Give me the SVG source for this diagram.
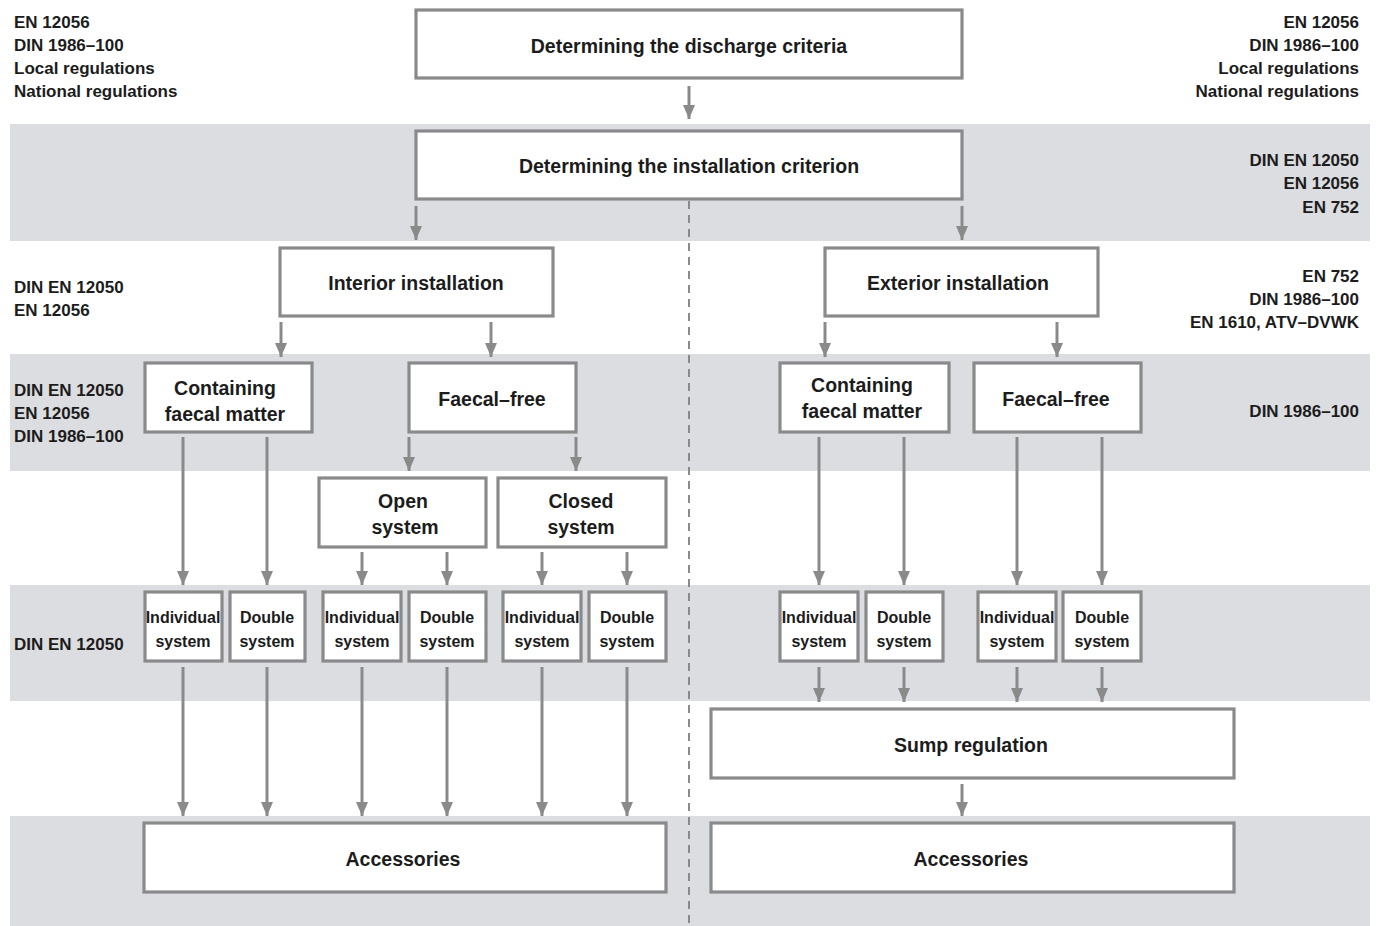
<svg xmlns="http://www.w3.org/2000/svg" width="1379" height="926" viewBox="0 0 1379 926">
<defs>
<marker id="ah" markerUnits="userSpaceOnUse" markerWidth="14" markerHeight="12" viewBox="0 0 14 12" refX="14" refY="6" orient="auto">
<path d="M0,0 L14,6 L0,12 Z" fill="#8a8a8a"/>
</marker>
<style>
.band{fill:#dcdde0}
.box{fill:#fff;stroke:#8a8a8a;stroke-width:3.2}
.t{font-family:"Liberation Sans",Arial,sans-serif;font-weight:bold;fill:#1c1c1c}
.m{font-size:19.5px;text-anchor:middle}
.s{font-size:16px;text-anchor:middle}
.l{font-size:17px}
.r{font-size:17px;text-anchor:end}
.c{stroke:#8a8a8a;stroke-width:3;fill:none}
.dash{stroke:#8a8a8a;stroke-width:2;stroke-dasharray:8 6;fill:none}
</style>
</defs>
<rect width="1379" height="926" fill="#fff"/>
<g id="bands">
<rect class="band" x="10" y="124" width="1360" height="117"/>
<rect class="band" x="10" y="354" width="1360" height="117"/>
<rect class="band" x="10" y="585" width="1360" height="116"/>
<rect class="band" x="10" y="816" width="1360" height="110"/>
</g>
<g id="connectors">
<line class="dash" x1="689" y1="201" x2="689" y2="926"/>
<g marker-end="url(#ah)">
<line class="c" x1="689" y1="86" x2="689" y2="119"/>
<line class="c" x1="416" y1="206" x2="416" y2="240"/>
<line class="c" x1="962" y1="206" x2="962" y2="240"/>
<line class="c" x1="281" y1="322" x2="281" y2="357"/>
<line class="c" x1="491" y1="322" x2="491" y2="357"/>
<line class="c" x1="825" y1="322" x2="825" y2="357"/>
<line class="c" x1="1057" y1="322" x2="1057" y2="357"/>
<line class="c" x1="409" y1="437" x2="409" y2="471"/>
<line class="c" x1="576" y1="437" x2="576" y2="471"/>
<line class="c" x1="183" y1="437" x2="183" y2="585"/>
<line class="c" x1="267" y1="437" x2="267" y2="585"/>
<line class="c" x1="819" y1="437" x2="819" y2="585"/>
<line class="c" x1="904" y1="437" x2="904" y2="585"/>
<line class="c" x1="1017" y1="437" x2="1017" y2="585"/>
<line class="c" x1="1102" y1="437" x2="1102" y2="585"/>
<line class="c" x1="362" y1="552" x2="362" y2="585"/>
<line class="c" x1="447" y1="552" x2="447" y2="585"/>
<line class="c" x1="542" y1="552" x2="542" y2="585"/>
<line class="c" x1="627" y1="552" x2="627" y2="585"/>
<line class="c" x1="183" y1="667" x2="183" y2="816"/>
<line class="c" x1="267" y1="667" x2="267" y2="816"/>
<line class="c" x1="362" y1="667" x2="362" y2="816"/>
<line class="c" x1="447" y1="667" x2="447" y2="816"/>
<line class="c" x1="542" y1="667" x2="542" y2="816"/>
<line class="c" x1="627" y1="667" x2="627" y2="816"/>
<line class="c" x1="819" y1="667" x2="819" y2="702"/>
<line class="c" x1="904" y1="667" x2="904" y2="702"/>
<line class="c" x1="1017" y1="667" x2="1017" y2="702"/>
<line class="c" x1="1102" y1="667" x2="1102" y2="702"/>
<line class="c" x1="962" y1="784" x2="962" y2="816"/>
</g>
</g>
<g id="n-discharge"><rect class="box" x="416" y="10" width="546" height="68"/><text class="t m" x="689" y="53">Determining the discharge criteria</text></g>
<g id="n-installation"><rect class="box" x="416" y="131" width="546" height="68"/><text class="t m" x="689" y="173">Determining the installation criterion</text></g>
<g id="n-interior"><rect class="box" x="280" y="248" width="273" height="68"/><text class="t m" x="416" y="290">Interior installation</text></g>
<g id="n-exterior"><rect class="box" x="825" y="248" width="273" height="68"/><text class="t m" x="958" y="290">Exterior installation</text></g>
<g id="n-int-containing"><rect class="box" x="145" y="363" width="167" height="69"/><text class="t m" x="225" y="395">Containing</text><text class="t m" x="225" y="421">faecal matter</text></g>
<g id="n-int-faecalfree"><rect class="box" x="409" y="363" width="167" height="69"/><text class="t m" x="492" y="406">Faecal–free</text></g>
<g id="n-ext-containing"><rect class="box" x="780" y="363" width="169" height="69"/><text class="t m" x="862" y="392">Containing</text><text class="t m" x="862" y="418">faecal matter</text></g>
<g id="n-ext-faecalfree"><rect class="box" x="974" y="363" width="167" height="69"/><text class="t m" x="1056" y="406">Faecal–free</text></g>
<g id="n-open"><rect class="box" x="319" y="478" width="167" height="69"/><text class="t m" x="403" y="508">Open</text><text class="t m" x="405" y="534">system</text></g>
<g id="n-closed"><rect class="box" x="498" y="478" width="168" height="69"/><text class="t m" x="581" y="508">Closed</text><text class="t m" x="581" y="534">system</text></g>
<g id="n-s1"><rect class="box" x="145" y="592" width="77" height="69"/><text class="t s" x="183" y="623">Individual</text><text class="t s" x="183" y="647">system</text></g>
<g id="n-s2"><rect class="box" x="230" y="592" width="75" height="69"/><text class="t s" x="267" y="623">Double</text><text class="t s" x="267" y="647">system</text></g>
<g id="n-s3"><rect class="box" x="323" y="592" width="78" height="69"/><text class="t s" x="362" y="623">Individual</text><text class="t s" x="362" y="647">system</text></g>
<g id="n-s4"><rect class="box" x="409" y="592" width="77" height="69"/><text class="t s" x="447" y="623">Double</text><text class="t s" x="447" y="647">system</text></g>
<g id="n-s5"><rect class="box" x="503" y="592" width="78" height="69"/><text class="t s" x="542" y="623">Individual</text><text class="t s" x="542" y="647">system</text></g>
<g id="n-s6"><rect class="box" x="589" y="592" width="77" height="69"/><text class="t s" x="627" y="623">Double</text><text class="t s" x="627" y="647">system</text></g>
<g id="n-s7"><rect class="box" x="780" y="592" width="78" height="69"/><text class="t s" x="819" y="623">Individual</text><text class="t s" x="819" y="647">system</text></g>
<g id="n-s8"><rect class="box" x="866" y="592" width="77" height="69"/><text class="t s" x="904" y="623">Double</text><text class="t s" x="904" y="647">system</text></g>
<g id="n-s9"><rect class="box" x="978" y="592" width="78" height="69"/><text class="t s" x="1017" y="623">Individual</text><text class="t s" x="1017" y="647">system</text></g>
<g id="n-s10"><rect class="box" x="1063" y="592" width="78" height="69"/><text class="t s" x="1102" y="623">Double</text><text class="t s" x="1102" y="647">system</text></g>
<g id="n-sump"><rect class="box" x="711" y="709" width="523" height="69"/><text class="t m" x="971" y="752">Sump regulation</text></g>
<g id="n-acc-left"><rect class="box" x="144" y="823" width="522" height="69"/><text class="t m" x="403" y="866">Accessories</text></g>
<g id="n-acc-right"><rect class="box" x="711" y="823" width="523" height="69"/><text class="t m" x="971" y="866">Accessories</text></g>
<g id="labels-left">
<text class="t l" x="14" y="28">EN 12056</text>
<text class="t l" x="14" y="51">DIN 1986–100</text>
<text class="t l" x="14" y="74">Local regulations</text>
<text class="t l" x="14" y="97">National regulations</text>
<text class="t l" x="14" y="293">DIN EN 12050</text>
<text class="t l" x="14" y="316">EN 12056</text>
<text class="t l" x="14" y="396">DIN EN 12050</text>
<text class="t l" x="14" y="419">EN 12056</text>
<text class="t l" x="14" y="442">DIN 1986–100</text>
<text class="t l" x="14" y="650">DIN EN 12050</text>
</g>
<g id="labels-right">
<text class="t r" x="1359" y="28">EN 12056</text>
<text class="t r" x="1359" y="51">DIN 1986–100</text>
<text class="t r" x="1359" y="74">Local regulations</text>
<text class="t r" x="1359" y="97">National regulations</text>
<text class="t r" x="1359" y="166">DIN EN 12050</text>
<text class="t r" x="1359" y="189">EN 12056</text>
<text class="t r" x="1359" y="213">EN 752</text>
<text class="t r" x="1359" y="282">EN 752</text>
<text class="t r" x="1359" y="305">DIN 1986–100</text>
<text class="t r" x="1359" y="328">EN 1610, ATV–DVWK</text>
<text class="t r" x="1359" y="417">DIN 1986–100</text>
</g>
</svg>
